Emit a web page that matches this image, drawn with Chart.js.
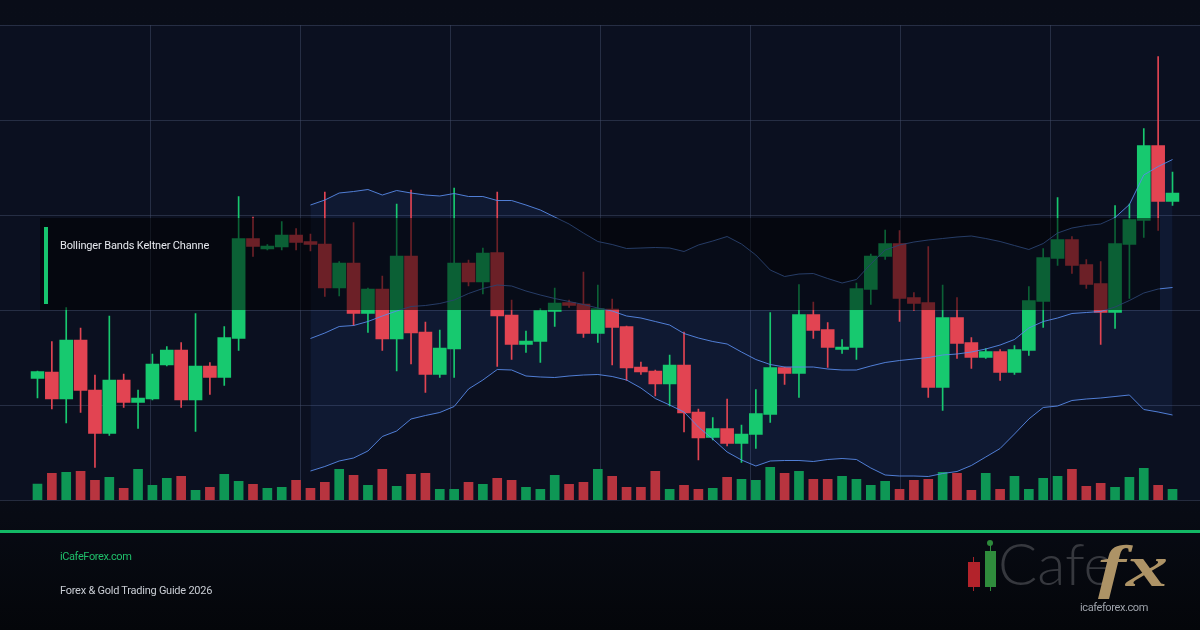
<!DOCTYPE html>
<html lang="en">
<head>
    <meta charset="UTF-8">
    <title>Bollinger Bands Keltner Channel</title>
    <script src="https://cdn.jsdelivr.net/npm/chart.js"></script>
    <style>
        html, body { margin: 0; padding: 0; }
        body {
            width: 1200px; height: 630px; overflow: hidden; position: relative;
            background: linear-gradient(180deg, #090d18 0%, #0a0e1b 50%, #080b14 82%, #04060a 100%);
            font-family: Roboto, "Noto Sans", sans-serif;
        }
        #chart { position: absolute; left: 0; top: 0; }
        .label-box {
            position: absolute; left: 40px; top: 218px; width: 1120px; height: 92px;
            background: rgba(0, 0, 0, 0.52);
        }
        .label-box .bar { position: absolute; left: 4px; top: 9px; width: 4px; height: 77px; background: #17c46d; }
        .label-box .txt {
            position: absolute; left: 20px; top: 21px; line-height: 14px;
            font-size: 11px; letter-spacing: -0.15px; color: #e6e8ee; white-space: nowrap;
        }
        .footer-line { position: absolute; left: 0; top: 530px; width: 1200px; height: 3px; background: #13b865; }
        .site { position: absolute; left: 60px; top: 550px; font-size: 11px; line-height: 14px; letter-spacing: -0.4px; color: #1fbf6a; }
        .guide { position: absolute; left: 60px; top: 584px; font-size: 11px; line-height: 14px; letter-spacing: -0.25px; color: #c9cdd4; }
        .logo { position: absolute; left: 0; top: 0; }
        .logo .c { position: absolute; }
        .logo .cafe {
            position: absolute; left: 998px; top: 534px; font-family: Lato, sans-serif; font-weight: 300;
            font-size: 58px; line-height: 58px; color: #36383e; white-space: nowrap;
        }
        .logo .fx {
            position: absolute; left: 1098px; top: 536px; font-family: "Liberation Serif", serif; font-weight: bold;
            font-style: italic; font-size: 60px; line-height: 60px; color: #ad9366; white-space: nowrap;
            transform: scaleX(1.4); transform-origin: left center;
        }
        .logo .url {
            position: absolute; left: 1080px; top: 601px; font-size: 11px; line-height: 14px;
            letter-spacing: -0.4px; color: #9ea3ab; white-space: nowrap;
        }
    </style>
</head>
<body>
    <canvas id="chart" width="1200" height="630"></canvas>

    <div class="label-box">
        <div class="bar"></div>
        <div class="txt">Bollinger Bands Keltner Channe</div>
    </div>

    <div class="footer-line"></div>
    <div class="site">iCafeForex.com</div>
    <div class="guide">Forex &amp; Gold Trading Guide 2026</div>

    <div class="logo">
        <div class="c" style="left:973px;top:557px;width:1px;height:34px;background:#a8222a"></div>
        <div class="c" style="left:968px;top:562px;width:12px;height:25px;background:#b3232b"></div>
        <div class="c" style="left:990px;top:543px;width:1px;height:48px;background:#2d8a3b"></div>
        <div class="c" style="left:987px;top:540px;width:6px;height:6px;border-radius:3px;background:#2d8a3b"></div>
        <div class="c" style="left:985px;top:551px;width:11px;height:36px;background:#2f8c3c"></div>
        <div class="cafe">Cafe</div>
        <div class="fx">fx</div>
        <div class="url">icafeforex.com</div>
    </div>

    <script>
        // velas (OHLC), 80 periodos
        const opens = [
            2324.3, 2325.6, 2320.2, 2332.0, 2322.0, 2313.3, 2324.0, 2319.5, 2320.2, 2327.0,
            2330.0, 2320.0, 2326.8, 2324.5, 2332.3, 2352.3, 2350.2, 2350.6, 2353.0, 2351.7,
            2351.2, 2342.4, 2347.4, 2337.3, 2342.2, 2332.2, 2348.8, 2333.6, 2325.1, 2330.2,
            2347.4, 2343.6, 2349.5, 2337.0, 2331.1, 2331.7, 2337.7, 2339.5, 2339.2, 2333.3,
            2338.2, 2334.7, 2326.6, 2325.8, 2323.2, 2327.0, 2317.6, 2312.5, 2314.3, 2311.3,
            2313.1, 2317.1, 2326.5, 2325.3, 2337.1, 2334.1, 2330.1, 2330.5, 2342.1, 2348.7,
            2351.3, 2340.5, 2339.5, 2322.5, 2336.5, 2331.5, 2328.5, 2329.7, 2325.5, 2329.9,
            2339.7, 2348.3, 2352.1, 2347.1, 2343.3, 2337.5, 2351.1, 2355.9, 2370.9, 2359.7
        ];
        const highs = [
            2325.8, 2331.7, 2338.5, 2334.4, 2325.0, 2336.8, 2325.2, 2322.0, 2329.2, 2330.7,
            2331.5, 2337.3, 2327.5, 2334.7, 2360.7, 2356.6, 2351.1, 2355.7, 2354.3, 2353.2,
            2361.6, 2347.7, 2355.5, 2342.4, 2344.8, 2359.2, 2362.0, 2335.6, 2334.0, 2362.4,
            2348.0, 2350.4, 2361.6, 2340.0, 2333.8, 2338.3, 2342.4, 2340.0, 2345.6, 2343.0,
            2340.2, 2334.8, 2327.6, 2326.0, 2329.0, 2333.6, 2318.2, 2316.5, 2320.2, 2315.0,
            2322.1, 2337.5, 2326.6, 2343.1, 2339.6, 2335.5, 2332.1, 2343.4, 2349.2, 2354.0,
            2353.9, 2341.5, 2350.7, 2343.0, 2340.5, 2332.5, 2330.3, 2330.1, 2330.9, 2342.7,
            2350.3, 2360.5, 2352.7, 2348.1, 2347.7, 2358.9, 2359.2, 2374.3, 2388.7, 2365.6
        ];
        const lows = [
            2320.4, 2318.2, 2315.4, 2317.5, 2306.5, 2312.9, 2318.5, 2314.3, 2320.0, 2326.8,
            2318.5, 2313.7, 2321.1, 2322.9, 2329.9, 2348.7, 2350.0, 2350.0, 2350.0, 2349.8,
            2340.7, 2340.8, 2334.9, 2333.5, 2329.9, 2325.8, 2327.2, 2321.5, 2324.5, 2324.5,
            2342.8, 2341.2, 2326.7, 2328.1, 2329.5, 2327.5, 2334.7, 2338.5, 2332.5, 2331.5,
            2327.0, 2323.9, 2325.1, 2320.8, 2318.8, 2313.6, 2308.0, 2312.0, 2310.8, 2307.5,
            2310.3, 2315.5, 2323.1, 2320.5, 2332.3, 2326.5, 2329.3, 2328.1, 2339.1, 2348.1,
            2335.7, 2337.9, 2320.5, 2317.9, 2328.3, 2326.3, 2328.3, 2323.9, 2325.1, 2328.9,
            2334.5, 2346.9, 2345.3, 2342.3, 2331.1, 2334.3, 2340.3, 2352.5, 2353.9, 2358.9
        ];
        const closes = [
            2325.7, 2320.2, 2332.0, 2321.9, 2313.3, 2324.0, 2319.5, 2320.4, 2327.2, 2330.0,
            2320.0, 2326.8, 2324.5, 2332.5, 2352.3, 2350.7, 2350.8, 2353.0, 2351.5, 2351.1,
            2342.4, 2347.4, 2337.3, 2342.2, 2332.2, 2348.8, 2333.4, 2325.1, 2330.4, 2347.4,
            2343.6, 2349.4, 2336.8, 2331.1, 2331.8, 2337.9, 2339.4, 2338.9, 2333.3, 2338.3,
            2334.5, 2326.4, 2325.6, 2323.2, 2327.0, 2317.4, 2312.4, 2314.3, 2311.3, 2313.2,
            2317.3, 2326.5, 2325.3, 2337.1, 2333.9, 2330.5, 2330.6, 2342.3, 2348.8, 2351.3,
            2340.3, 2339.3, 2322.5, 2336.5, 2331.3, 2328.5, 2329.7, 2325.5, 2330.1, 2339.9,
            2348.5, 2352.1, 2346.9, 2343.1, 2337.5, 2351.3, 2356.1, 2370.9, 2359.7, 2361.4
        ];
        const volumes = [
            1600, 2670, 2770, 2870, 1970, 2270, 1170, 3070, 1470, 2170,
            2370, 970, 1270, 2570, 1870, 1570, 1170, 1270, 1970, 1170,
            1770, 3070, 2470, 1470, 3070, 1370, 2570, 2670, 1070, 1070,
            1770, 1570, 2170, 1970, 1270, 1070, 2470, 1570, 1770, 3070,
            2370, 1270, 1270, 2870, 1070, 1470, 1070, 1170, 2270, 2070,
            1970, 3270, 2670, 2870, 2070, 2070, 2370, 2070, 1470, 1870,
            1070, 1970, 2070, 2770, 2670, 970, 2670, 1070, 2370, 1070,
            2170, 2370, 3070, 1370, 1670, 1270, 2270, 3170, 1470, 1070
        ];

        // bandas de bollinger, comecam na vela 20 (indice 19)
        const bandStart = 19;
        const bbUpper = [
            2359.0, 2360.0, 2361.4, 2361.7, 2362.1, 2361.0, 2361.9, 2361.4, 2361.0, 2360.8,
            2361.3, 2360.7, 2360.7, 2359.9, 2359.9, 2359.0, 2358.0, 2356.6, 2355.2, 2353.4,
            2351.7, 2351.1, 2350.3, 2350.4, 2350.5, 2350.4, 2349.7, 2351.0, 2351.8, 2352.7,
            2351.2, 2349.0, 2346.0, 2344.7, 2345.2, 2345.3, 2344.3, 2343.4, 2344.1, 2347.2,
            2350.0, 2351.0, 2351.6, 2352.0, 2352.3, 2352.6, 2352.8, 2352.3, 2351.7, 2350.9,
            2350.1, 2351.3, 2353.4, 2354.4, 2354.9, 2355.2, 2356.5, 2359.1, 2365.0, 2366.7,
            2368.1
        ];
        const bbMiddle = [
            2332.3, 2333.4, 2334.7, 2334.9, 2335.7, 2336.8, 2337.8, 2338.7, 2338.9, 2339.3,
            2340.0, 2341.3, 2342.3, 2343.0, 2342.8, 2341.8, 2341.0, 2340.3, 2339.7, 2339.1,
            2338.4, 2337.8, 2336.8, 2336.4, 2335.7, 2335.0, 2333.3, 2332.4, 2331.7, 2331.2,
            2329.6, 2328.1, 2327.1, 2326.6, 2326.6, 2326.6, 2326.2, 2326.0, 2326.0, 2326.8,
            2327.5, 2327.9, 2328.2, 2328.5, 2329.0, 2329.2, 2329.6, 2330.2, 2331.0, 2332.1,
            2334.4, 2335.7, 2336.4, 2337.3, 2337.5, 2337.7, 2338.6, 2339.9, 2341.4, 2342.2,
            2342.5
        ];
        const bbLower = [
            2305.8, 2306.7, 2307.8, 2308.4, 2309.8, 2312.7, 2313.8, 2316.2, 2316.9, 2317.5,
            2318.7, 2322.2, 2324.0, 2326.1, 2326.0, 2324.8, 2324.6, 2324.5, 2324.8, 2325.0,
            2325.1, 2324.7, 2324.0, 2322.4, 2320.3, 2319.0, 2317.6, 2314.6, 2312.2, 2309.6,
            2308.0, 2306.8, 2307.8, 2307.9, 2307.9, 2307.7, 2308.1, 2308.3, 2308.1, 2306.4,
            2305.0, 2304.8, 2304.8, 2304.7, 2305.3, 2305.7, 2306.9, 2308.6, 2310.3, 2313.2,
            2316.2, 2318.5, 2318.8, 2319.9, 2320.2, 2320.4, 2320.7, 2321.0, 2318.1, 2317.6,
            2317.0
        ];

        const labels = opens.map((_, i) => i + 1);
        const isUp = opens.map((o, i) => closes[i] >= o);
        const pad = Array(bandStart).fill(null);

        const upCol = '#17c96f', downCol = '#e24452';
        const volUp = '#0e9755', volDown = '#b8343f';
        const bandCol = 'rgba(88, 138, 232, 0.9)';

        // fundo e grade fixa
        const backdrop = {
            id: 'backdrop',
            beforeDraw(chart) {
                const { ctx, chartArea } = chart;
                const top = chartArea.top, bottom = chartArea.bottom;
                ctx.save();
                ctx.fillStyle = '#0b1020';
                ctx.fillRect(0, top, chart.width, bottom - top);
                ctx.strokeStyle = 'rgba(66, 76, 104, 0.5)';
                ctx.lineWidth = 1;
                ctx.beginPath();
                for (let y = top; y <= bottom + 1; y += 95) {
                    ctx.moveTo(0, Math.round(y) + 0.5);
                    ctx.lineTo(chart.width, Math.round(y) + 0.5);
                }
                for (let x = 150; x < chart.width; x += 150) {
                    ctx.moveTo(x + 0.5, top);
                    ctx.lineTo(x + 0.5, bottom);
                }
                ctx.stroke();
                ctx.restore();
            }
        };

        const lineDs = (data, extra) => Object.assign({
            type: 'line',
            data: pad.concat(data),
            borderColor: bandCol,
            borderWidth: 1,
            pointRadius: 0,
            tension: 0,
            fill: false,
            order: 0
        }, extra);

        new Chart(document.getElementById('chart'), {
            type: 'bar',
            data: {
                labels: labels,
                datasets: [
                    lineDs(bbUpper, { fill: '+2', backgroundColor: 'rgba(59, 110, 220, 0.1)' }),
                    lineDs(bbMiddle),
                    lineDs(bbLower),
                    {
                        data: opens.map((o, i) => [o, closes[i]]),
                        backgroundColor: isUp.map(u => u ? upCol : downCol),
                        barThickness: 13,
                        grouped: false,
                        order: 1
                    },
                    {
                        data: lows.map((l, i) => [l, highs[i]]),
                        backgroundColor: isUp.map(u => u ? upCol : downCol),
                        barThickness: 1,
                        grouped: false,
                        order: 2
                    },
                    {
                        data: volumes,
                        yAxisID: 'vol',
                        backgroundColor: isUp.map(u => u ? volUp : volDown),
                        barThickness: 9,
                        grouped: false,
                        order: 3
                    }
                ]
            },
            options: {
                responsive: false,
                devicePixelRatio: 1,
                animation: false,
                layout: { padding: { left: 30.3, right: 20.3, top: 25, bottom: 130 } },
                scales: {
                    x: { display: false, offset: true },
                    y: { display: false, min: 2300, max: 2395 },
                    vol: { display: false, min: 0, max: 47500 }
                },
                plugins: {
                    legend: { display: false },
                    tooltip: { enabled: false },
                    filler: { drawTime: 'beforeDatasetsDraw' }
                }
            },
            plugins: [backdrop]
        });
    </script>
</body>
</html>
